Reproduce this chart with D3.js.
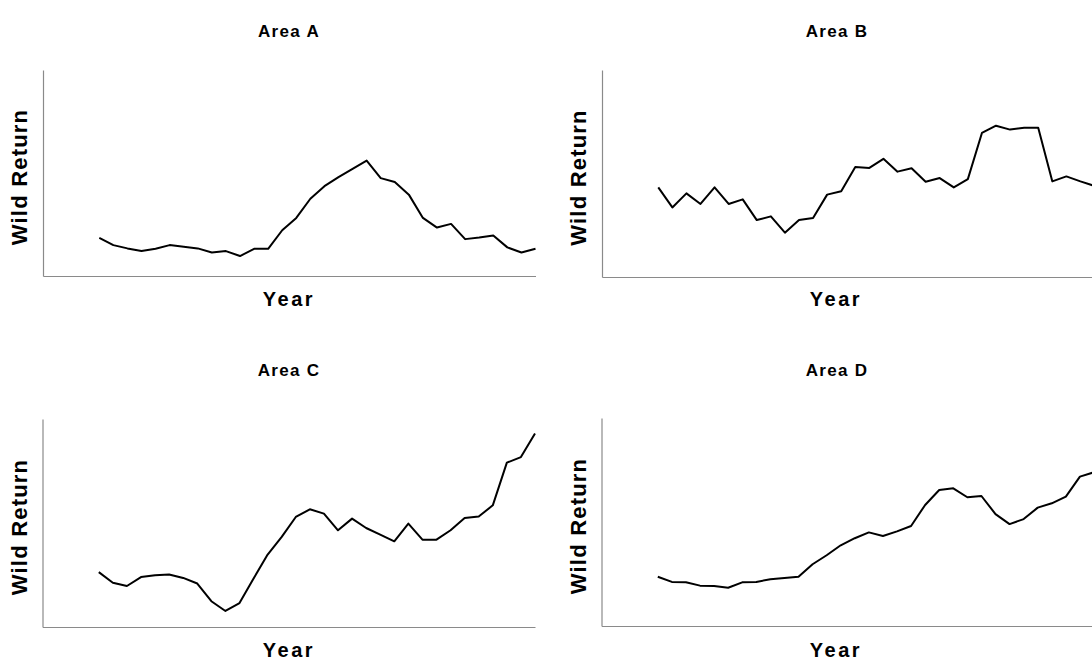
<!DOCTYPE html>
<html>
<head>
<meta charset="utf-8">
<script src="https://cdn.jsdelivr.net/npm/d3@7"></script>
<style>
  html, body { margin: 0; padding: 0; background: #fff; }
  svg { display: block; }
  text { font-family: "Liberation Sans", Arial, Helvetica, sans-serif; font-weight: bold; fill: #000; }
</style>
</head>
<body>
<svg id="chart" width="1092" height="662"></svg>
<script>
// ---- data ----
const years = [1970,1971,1972,1973,1974,1975,1976,1977,1978,1979,1980,1981,1982,1983,1984,1985,
               1986,1987,1988,1989,1990,1991,1992,1993,1994,1995,1996,1997,1998,1999,2000,2001];
const areaNames = ["Area A", "Area B", "Area C", "Area D"];
const areaA = [18.5,15.0,13.4,12.1,13.2,15.0,14.2,13.4,11.4,12.1,9.7,13.2,13.2,22.2,28.2,37.5,
               43.6,48.0,52.0,56.0,47.5,45.6,39.5,28.2,23.5,25.3,17.9,18.7,19.7,13.9,11.4,13.2];
const areaB = [43.3,33.6,40.4,35.3,43.3,35.3,37.5,27.5,29.3,21.4,27.5,28.5,39.8,41.4,53.1,52.7,
               57.1,50.9,52.5,46.0,47.8,43.3,47.3,69.6,73.1,71.2,72.1,72.1,46.2,48.6,46.2,44.0];
const areaC = [26.4,21.3,19.7,24.0,24.9,25.2,23.6,20.9,12.4,7.7,11.5,23.3,34.8,43.3,52.9,56.6,
               54.5,46.5,52.1,47.6,44.4,41.2,49.7,42.0,42.0,46.5,52.4,53.1,58.5,79.0,81.7,93.0];
const areaD = [23.7,21.2,21.0,19.4,19.2,18.4,21.0,21.2,22.5,23.1,23.7,29.7,34.0,38.8,42.2,45.0,
               43.3,45.5,48.1,58.2,65.4,66.2,61.9,62.5,53.8,49.0,51.4,56.9,59.0,62.2,71.8,73.9];
const yLabel = "Wild Return";
const xLabel = "Year";
const xDomain = [1966, 2001];
const yDomain = [0, 100];

// ---- layout ----
const svg = d3.select("#chart");
const panels = [
  { name: areaNames[0], values: areaA, left: 43,    top: 70,  bottom: 276, titleX: 289, titleY: 37,  xlabX: 289, xlabY: 306, ylabX: 27,  },
  { name: areaNames[1], values: areaB, left: 602,   top: 70,  bottom: 277, titleX: 837, titleY: 37,  xlabX: 836, xlabY: 306, ylabX: 586, },
  { name: areaNames[2], values: areaC, left: 42.5,  top: 419, bottom: 627, titleX: 289, titleY: 376, xlabX: 289, xlabY: 657, ylabX: 27,  },
  { name: areaNames[3], values: areaD, left: 601.5, top: 418, bottom: 626, titleX: 837, titleY: 376, xlabX: 836, xlabY: 657, ylabX: 586, }
];
const plotWidth = 492.5;

panels.forEach(p => {
  const x = d3.scaleLinear().domain(xDomain).range([p.left, p.left + plotWidth]);
  const y = d3.scaleLinear().domain(yDomain).range([p.bottom, p.top]);
  const g = svg.append("g");

  // axes (no ticks)
  const ax = g.append("g").attr("transform", `translate(0,${p.bottom})`)
    .call(d3.axisBottom(x).tickValues([]).tickSizeOuter(0));
  const ay = g.append("g").attr("transform", `translate(${p.left},0)`)
    .call(d3.axisLeft(y).tickValues([]).tickSizeOuter(0));
  [ax, ay].forEach(a => a.select(".domain").attr("stroke", "#8a8a8a").attr("stroke-width", 1.2));

  // line
  const line = d3.line().x((d, i) => x(years[i])).y(d => y(d));
  g.append("path").datum(p.values)
    .attr("fill", "none").attr("stroke", "#000").attr("stroke-width", 2)
    .attr("stroke-linejoin", "round").attr("d", line);

  // texts
  g.append("text").attr("x", p.titleX).attr("y", p.titleY)
    .attr("text-anchor", "middle").style("font-size", "17px").style("letter-spacing", "1.3px")
    .text(p.name);
  g.append("text").attr("x", p.xlabX).attr("y", p.xlabY)
    .attr("text-anchor", "middle").style("font-size", "20px").style("letter-spacing", "2.5px")
    .text(xLabel);
  const cy = (p.top + p.bottom) / 2 + 4;
  g.append("text").attr("transform", `translate(${p.ylabX},${cy}) rotate(-90)`)
    .attr("text-anchor", "middle").style("font-size", "22px").style("letter-spacing", "1.2px")
    .text(yLabel);
});
</script>
</body>
</html>
